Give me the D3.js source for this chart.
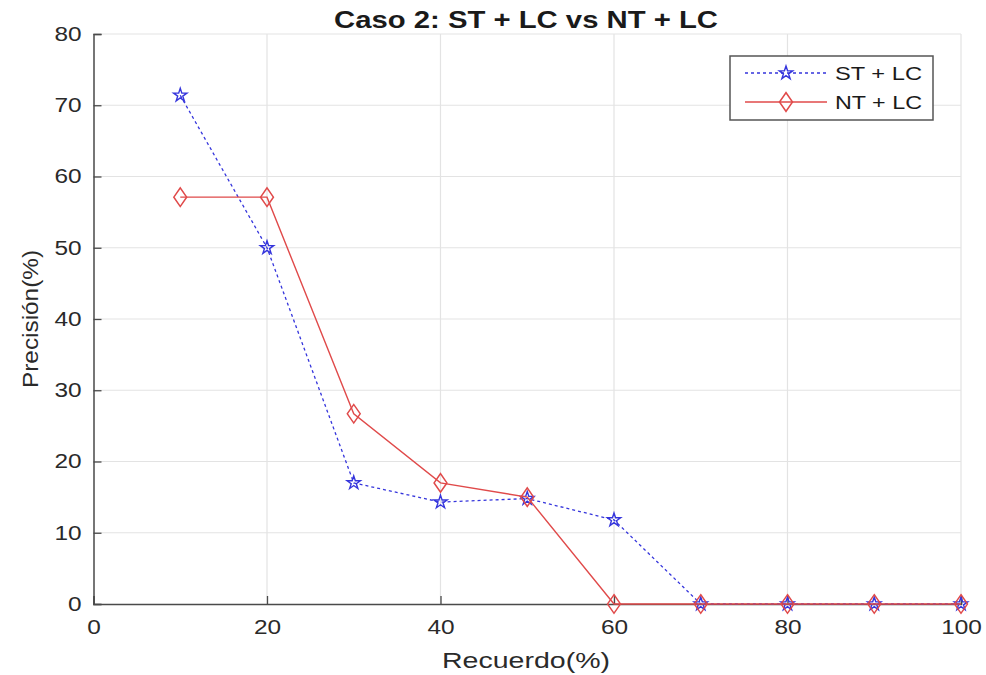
<!DOCTYPE html>
<html><head><meta charset="utf-8">
<script src="https://cdn.jsdelivr.net/npm/d3@7"></script>
<style>body{margin:0;background:#fff}svg{display:block}text{font-family:"Liberation Sans",Arial,sans-serif}</style>
</head><body>
<script>
const recall = [10, 20, 30, 40, 50, 60, 70, 80, 90, 100];
const stLC = [71.4, 50.0, 17.0, 14.3, 14.8, 11.8, 0, 0, 0, 0];
const ntLC = [57.1, 57.1, 26.7, 17.0, 15.0, 0, 0, 0, 0, 0];
const xTicks = [0, 20, 40, 60, 80, 100];
const yTicks = [0, 10, 20, 30, 40, 50, 60, 70, 80];
const seriesNames = ["ST + LC", "NT + LC"];
const titleText = "Caso 2: ST + LC vs NT + LC";
const xLabel = "Recuerdo(%)";
const yLabel = "Precisión(%)";

const W = 986, H = 675;
const svg = d3.select("body").append("svg").attr("width", W).attr("height", H);
const x = d3.scaleLinear().domain([0, 100]).range([93.5, 961]);
const y = d3.scaleLinear().domain([0, 80]).range([604, 34]);
const blue = "#3535dc", red = "#e04a4a", axisCol = "#4a4a4a", gridCol = "#e3e3e3";
const stretch = 1.22;

// grid
svg.append("g").selectAll("line").data(xTicks.filter(d => d > 0)).join("line")
  .attr("x1", d => x(d)).attr("x2", d => x(d)).attr("y1", y(0)).attr("y2", y(80))
  .attr("stroke", gridCol).attr("stroke-width", 1.2);
svg.append("g").selectAll("line").data(yTicks.filter(d => d > 0)).join("line")
  .attr("y1", d => y(d)).attr("y2", d => y(d)).attr("x1", x(0)).attr("x2", x(100))
  .attr("stroke", gridCol).attr("stroke-width", 1.2);

// axes
const xAxis = d3.axisBottom(x).tickValues(xTicks).tickSize(-8).tickPadding(15).tickFormat(d3.format("d"));
const yAxis = d3.axisLeft(y).tickValues(yTicks).tickSize(-8).tickPadding(12).tickFormat(d3.format("d"));
const gx = svg.append("g").attr("transform", `translate(0,${y(0)})`).call(xAxis);
const gy = svg.append("g").attr("transform", `translate(${x(0)},0)`).call(yAxis);
[gx, gy].forEach(g => {
  g.select(".domain").attr("stroke", axisCol).attr("stroke-width", 1.5);
  g.selectAll(".tick line").attr("stroke", axisCol).attr("stroke-width", 1.3);
  g.selectAll(".tick text").attr("fill", "#2a2a2a").attr("font-size", 20)
    .attr("font-family", '"Liberation Sans",Arial,sans-serif')
    .attr("textLength", d => String(d).length * 0.556 * 20 * stretch)
    .attr("lengthAdjust", "spacingAndGlyphs");
});
gx.selectAll(".tick text").attr("dy", "0.75em");

// lines
const line = d3.line().x((d, i) => x(recall[i])).y(d => y(d));
svg.append("path").datum(stLC).attr("d", line).attr("fill", "none")
  .attr("stroke", blue).attr("stroke-width", 1.3).attr("stroke-dasharray", "3,3");
const star = d3.symbol().type(d3.symbolStar).size(55);
svg.append("g").selectAll("path").data(stLC).join("path")
  .attr("d", star).attr("transform", (d, i) => `translate(${x(recall[i])},${y(d)})`)
  .attr("fill", "none").attr("stroke", blue).attr("stroke-width", 1.4);

svg.append("path").datum(ntLC).attr("d", line).attr("fill", "none")
  .attr("stroke", red).attr("stroke-width", 1.4);
const diamond = d3.symbol().type(d3.symbolDiamond).size(100);
svg.append("g").selectAll("path").data(ntLC).join("path")
  .attr("d", diamond).attr("transform", (d, i) => `translate(${x(recall[i])},${y(d)}) scale(1.2,1)`)
  .attr("fill", "none").attr("stroke", red).attr("stroke-width", 1.3);

// title & labels
svg.append("text").attr("x", 526).attr("y", 28).attr("text-anchor", "middle")
  .attr("font-size", 24).attr("font-weight", "bold").attr("fill", "#1a1a1a")
  .attr("textLength", 384).attr("lengthAdjust", "spacingAndGlyphs").text(titleText);
svg.append("text").attr("x", 526).attr("y", 668).attr("text-anchor", "middle")
  .attr("font-size", 22).attr("fill", "#2a2a2a")
  .attr("textLength", 168).attr("lengthAdjust", "spacingAndGlyphs").text(xLabel);
svg.append("text").attr("transform", "translate(38,319) rotate(-90)").attr("text-anchor", "middle")
  .attr("font-size", 22).attr("fill", "#2a2a2a")
  .attr("textLength", 138).attr("lengthAdjust", "spacingAndGlyphs").text(yLabel);

// legend
const lg = svg.append("g");
lg.append("rect").attr("x", 730).attr("y", 56).attr("width", 203).attr("height", 64)
  .attr("fill", "#fff").attr("stroke", "#555").attr("stroke-width", 1.5);
const rows = [{name: seriesNames[0], col: blue, dash: "3,3", sym: star, sc: ""},
              {name: seriesNames[1], col: red, dash: null, sym: diamond, sc: " scale(1.2,1)"}];
rows.forEach((r, i) => {
  const yy = 73 + i * 29;
  lg.append("line").attr("x1", 745).attr("x2", 827).attr("y1", yy).attr("y2", yy)
    .attr("stroke", r.col).attr("stroke-width", 1.3).attr("stroke-dasharray", r.dash);
  lg.append("path").attr("d", r.sym).attr("transform", `translate(786,${yy})${r.sc}`)
    .attr("fill", "none").attr("stroke", r.col).attr("stroke-width", 1.4);
  lg.append("text").attr("x", 835).attr("y", yy + 7).attr("font-size", 19).attr("fill", "#1a1a1a")
    .attr("textLength", 87).attr("lengthAdjust", "spacingAndGlyphs").text(r.name);
});
</script>
</body></html>
